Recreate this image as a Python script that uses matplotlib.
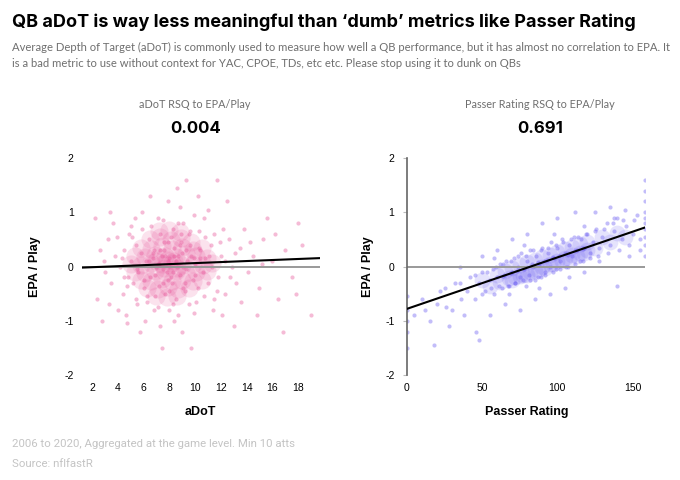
import numpy as np
import matplotlib.pyplot as plt

plt.rcParams['axes.unicode_minus'] = False

# aDoT vs EPA/play, single games (points read by eye from the cloud)
adot_x = [6.2, 6.5, 6.8, 7.0, 7.2, 7.4, 7.6, 7.8, 8.0, 8.2, 8.4, 8.6, 8.8, 9.0, 9.2, 9.4, 9.6, 9.8, 10.0,
          6.0, 6.4, 6.9, 7.3, 7.7, 8.1, 8.5, 8.9, 9.3, 9.7, 10.2, 10.4, 5.8, 5.6, 5.4, 5.2, 5.0, 10.6, 10.8,
          11.0, 11.2, 6.6, 7.5, 8.3, 9.1, 7.1, 8.0, 8.7, 9.5, 6.3, 10.3, 10.1,
          7.1, 7.5, 7.9, 8.3, 8.7, 9.1, 6.7, 7.3, 7.9, 8.5, 9.3, 9.9, 6.9, 7.7, 8.1, 8.9,
          4.2, 4.5, 4.8, 4.4, 4.9, 3.8, 3.5, 3.2, 3.0, 2.6, 2.4, 3.6, 4.0, 4.6, 5.3, 5.5, 5.9, 6.1, 7.9,
          8.8, 9.9, 10.7, 11.5, 11.8, 12.0, 12.3, 12.6, 12.9, 13.2, 13.5, 13.8, 14.1, 14.5, 15.0, 15.3,
          16.0, 16.4, 17.0, 17.5, 18.3, 11.4, 12.1, 11.0, 7.3, 8.4, 9.0, 6.5, 8.6, 11.7, 10.2, 5.7, 4.7,
          9.7, 13.0, 14.8, 16.8, 19.0, 18.0, 15.6, 2.2, 2.8, 3.4, 7.4, 12.5, 9.3,
          4.3, 4.7, 5.1, 5.5, 5.9, 6.3, 6.7, 7.1, 7.5, 7.9, 8.3, 8.7, 9.1, 9.5, 9.9, 10.3, 10.7, 11.1,
          11.5, 11.9, 12.3, 12.7, 4.5, 5.0, 5.4, 6.0, 6.4, 6.8, 7.2, 7.6, 8.0, 8.4, 8.8, 9.2, 9.6, 10.0,
          10.4, 10.8, 11.3, 11.7, 12.2, 13.1, 3.9, 13.6, 14.3, 3.3, 2.9, 15.2, 16.2, 17.8]
adot_y = [0.10, -0.20, 0.30, 0.00, -0.35, 0.20, 0.45, -0.10, 0.15, -0.30, 0.35, 0.00, -0.15, 0.25, -0.45,
          0.10, 0.40, -0.25, 0.05, -0.40, 0.50, -0.55, 0.60, -0.50, 0.55, -0.60, 0.60, -0.05, 0.20, -0.40,
          0.30, 0.25, -0.10, 0.40, -0.30, 0.10, -0.10, 0.15, -0.30, 0.40, 0.75, 0.85, 0.70, 0.80, -0.75,
          -0.80, -0.90, -0.70, -0.65, 0.65, -0.65,
          0.05, -0.05, 0.10, -0.10, 0.20, 0.00, 0.15, 0.30, -0.25, 0.10, 0.30, 0.15, -0.15, 0.20, -0.20, 0.45,
          0.00, 0.30, -0.20, -0.50, 0.60, 0.20, -0.30, 0.50, -0.10, 0.30, -0.60, 0.80, -0.80, -0.90, 0.90,
          -0.70, 1.00, -1.00, 1.20, 1.10, 0.95, 0.90, 0.60, -0.20, 0.20, -0.50, 0.50, 0.00, -0.30, 0.35,
          0.70, -0.10, 0.20, -0.40, 0.50, 0.10, -0.60, 0.30, -0.20, 0.40, -0.80, -0.90, 1.05, -1.10, -1.00,
          -1.20, 1.30, 1.45, 1.60, 1.30, -1.20, -1.05, -1.50, -1.10, -0.90, -1.20, -0.90, 0.80, 0.90, 0.90,
          -1.00, 1.00, -1.50, 1.20, 1.60,
          0.15, -0.35, 0.55, -0.05, 0.70, -0.55, 0.25, 0.90, -0.30, 0.45, -0.70, 0.80, -0.40, 0.60, -0.85,
          0.35, -0.55, 0.20, -0.60, 0.45, 0.10, -0.20, -0.20, 0.75, -0.60, -0.25, 0.10, -0.80, 0.05, 0.30,
          -0.45, 0.20, 0.40, -0.30, 0.65, -0.15, 0.15, 0.55, 0.00, -0.45, 0.70, 0.25, 0.55, -0.65, 0.45,
          -0.70, 0.10, 0.05, 0.60, -0.50]
# dense middle of the aDoT cloud
adot_core_x = [6.5, 7.3, 8.1, 8.9, 9.7, 5.8, 6.6, 7.4, 8.2, 9.0, 9.8, 10.5, 5.3, 6.1, 6.9, 7.7, 8.5, 9.3,
               10.1, 10.9, 5.0, 5.8, 6.6, 7.4, 8.2, 9.0, 9.8, 10.6, 11.3, 5.3, 6.1, 6.9, 7.7, 8.5, 9.3,
               10.1, 10.9, 5.8, 6.6, 7.4, 8.2, 9.0, 9.8, 10.5, 6.3, 7.1, 7.9, 8.7, 9.5, 7.0, 7.8, 8.6,
               7.2, 8.0, 8.8, 7.0, 7.8, 8.6, 7.6, 8.4]
adot_core_y = [0.50, 0.55, 0.48, 0.52, 0.45, 0.35, 0.33, 0.38, 0.32, 0.36, 0.30, 0.34, 0.20, 0.18, 0.22,
               0.20, 0.17, 0.23, 0.19, 0.15, 0.05, 0.03, 0.07, 0.04, 0.06, 0.02, 0.05, 0.03, 0.06, -0.10,
               -0.12, -0.08, -0.11, -0.09, -0.12, -0.10, -0.08, -0.25, -0.27, -0.23, -0.26, -0.24, -0.27,
               -0.25, -0.40, -0.42, -0.38, -0.41, -0.40, -0.55, -0.57, -0.54, 0.66, 0.68, 0.64, 0.10,
               0.12, -0.02, -0.02, 0.10]
adot_fit_x = [1.22, 19.7]
adot_fit_y = [-0.02, 0.155]

# Passer rating vs EPA/play
pr_x = [40, 42, 45, 48, 50, 52, 55, 57, 58, 60, 62, 63, 65, 66, 68, 70, 71, 72, 74, 75, 76, 78, 79, 80,
        81, 82, 84, 85, 86, 88, 89, 90, 91, 92, 94, 95, 96, 98, 99, 100, 102, 103, 105, 106, 108, 110,
        111, 113, 115, 116, 118, 120, 122, 124, 126, 128, 130, 133, 135, 138, 140, 143, 146, 150, 153,
        77, 83, 87, 93, 97, 101, 73, 69, 64, 107, 112, 117,
        20, 25, 30, 35, 15, 10, 5, 28, 38, 46, 55, 65, 75, 85, 95, 105, 70, 80, 90, 100, 112, 125, 135,
        145, 148, 155, 140, 118, 60, 50, 35, 18, 48,
        158.3, 158.3, 158.3, 158.3, 158.3, 158.3, 158.3, 158.3, 158.3, 158.3,
        0, 0, 0, 0, 0,
        45, 50, 53, 56, 59, 61, 64, 67, 69, 72, 74, 77, 79, 82, 84, 87, 89, 92, 94, 97, 99, 102, 104,
        107, 109, 112, 114, 117, 119, 122, 125, 127, 131, 134, 137, 141, 144, 148, 151, 155, 58, 68, 78,
        88, 98, 108, 118, 128, 138, 36, 32, 26, 22, 12]
pr_y = [-0.45, -0.20, -0.60, -0.30, -0.10, -0.45, -0.25, -0.05, -0.50, -0.20, 0.05, -0.40, -0.15, 0.10,
        -0.35, -0.10, 0.15, -0.30, 0.00, -0.20, 0.25, -0.05, -0.35, 0.10, -0.15, 0.30, 0.00, -0.25, 0.20,
        0.05, -0.20, 0.35, 0.10, -0.10, 0.25, 0.00, 0.45, 0.15, -0.05, 0.35, 0.10, 0.50, 0.25, 0.00, 0.40,
        0.20, 0.55, 0.30, 0.10, 0.50, 0.35, 0.60, 0.25, 0.45, 0.70, 0.35, 0.55, 0.80, 0.40, 0.65, 0.90,
        0.50, 0.75, 0.60, 0.95,
        -0.02, 0.05, 0.08, 0.12, 0.18, 0.20, -0.08, -0.12, -0.18, 0.22, 0.28, 0.33,
        -0.70, -0.40, -0.80, -0.30, -1.00, -0.60, -0.90, -1.10, -0.90, -1.20, -0.90, -0.70, -0.80, -0.60,
        -0.50, -0.40, 0.50, 0.60, 0.80, 0.90, 1.00, 1.00, 1.10, 1.05, 0.20, 0.30, -0.35, -0.10, 0.30,
        0.20, 0.00, -1.45, -1.35,
        0.20, 0.40, 0.55, 0.70, 0.80, 0.90, 1.00, 1.20, 1.40, 1.60,
        -0.55, -0.80, -1.00, -1.20, -1.50,
        -0.15, -0.50, -0.10, -0.40, 0.00, -0.35, 0.05, -0.35, 0.10, -0.30, 0.20, -0.25, 0.20, -0.25, 0.30,
        -0.20, 0.30, -0.15, 0.35, -0.10, 0.40, -0.05, 0.45, 0.00, 0.50, 0.05, 0.55, 0.10, 0.60, 0.15, 0.65,
        0.20, 0.70, 0.25, 0.80, 0.30, 0.85, 0.40, 0.85, 0.50, 0.15, -0.50, 0.40, -0.40, 0.60, -0.20, 0.75,
        0.10, 0.90, -0.60, -0.30, -0.75, -0.45, -0.80]
# dense middle of the passer rating cloud
pr_core_x = [50, 55, 60, 62, 65, 68, 70, 72, 75, 77, 80, 82, 85, 87, 90, 92, 95, 97, 100, 103, 105, 108,
             110, 113, 115, 118, 120, 125, 130, 135, 140, 145, 70, 75, 80, 85, 90, 95, 100, 105, 110, 115, 120]
pr_core_y = [-0.25, -0.35, -0.15, -0.28, -0.08, -0.22, -0.02, -0.20, 0.03, -0.15, 0.08, -0.10, 0.12, -0.06,
             0.17, -0.02, 0.22, 0.04, 0.26, 0.10, 0.32, 0.14, 0.36, 0.20, 0.42, 0.25, 0.45, 0.35, 0.55, 0.45,
             0.62, 0.55, -0.25, -0.18, -0.15, -0.08, 0.00, 0.05, 0.10, 0.15, 0.22, 0.25, 0.30]
pr_fit_x = [0, 158.3]
pr_fit_y = [-0.78, 0.72]

pink = '#e8559a'
blue = '#6a5cf2'
grey_txt = '#6f6f6f'

fig = plt.figure(figsize=(6.8, 4.8), dpi=100)

ax1 = fig.add_axes([0.1206, 0.21875, 0.35, 0.452])
ax2 = fig.add_axes([0.5985, 0.21875, 0.35, 0.452])

ax1.scatter(adot_core_x, adot_core_y, s=170, color=pink, alpha=0.17, linewidths=0)
ax1.scatter(adot_x, adot_y, s=9, color=pink, alpha=0.4, linewidths=0)
ax1.plot(adot_fit_x, [0, 0], color='#999999', lw=1.4, zorder=2)
ax1.plot(adot_fit_x, adot_fit_y, color='black', lw=1.5, zorder=3)
ax1.set_xlim(1.22, 19.7)
ax1.set_xticks([2, 4, 6, 8, 10, 12, 14, 16, 18])

ax2.scatter(pr_core_x, pr_core_y, s=130, color=blue, alpha=0.17, linewidths=0)
ax2.scatter(pr_x, pr_y, s=9, color=blue, alpha=0.4, linewidths=0)
ax2.plot(pr_fit_x, [0, 0], color='#999999', lw=1.4, zorder=2)
ax2.plot(pr_fit_x, pr_fit_y, color='black', lw=1.5, zorder=3)
ax2.set_xlim(0, 158.3)
ax2.set_xticks([0, 50, 100, 150])

for ax in (ax1, ax2):
    ax.set_ylim(-2, 2)
    ax.set_yticks([-2, -1, 0, 1, 2])
    for s in ax.spines.values():
        s.set_visible(False)
    ax.tick_params(length=0, labelsize=7.5, pad=6)
    for lab in ax.get_xticklabels() + ax.get_yticklabels():
        lab.set_fontfamily('Liberation Sans')

ax2.spines['left'].set_visible(True)
ax2.spines['left'].set_color('#666666')
ax2.spines['left'].set_linewidth(1.2)
ax2.tick_params(axis='y', length=3, color='#bbbbbb')

fig.text(0.018, 0.953, "QB aDoT is way less meaningful than \u2018dumb\u2019 metrics like Passer Rating",
         fontsize=13, fontweight='bold', family='Inter', va='center')
fig.text(0.018, 0.902, "Average Depth of Target (aDoT) is commonly used to measure how well a QB performance, "
         "but it has almost no correlation to EPA. It", fontsize=8.1, color=grey_txt, family='Lato', va='center')
fig.text(0.018, 0.868, "is a bad metric to use without context for YAC, CPOE, TDs, etc etc. "
         "Please stop using it to dunk on QBs", fontsize=8.1, color=grey_txt, family='Lato', va='center')

fig.text(0.287, 0.783, "aDoT RSQ to EPA/Play", fontsize=7.8, color=grey_txt, family='Lato', ha='center', va='center')
fig.text(0.287, 0.733, "0.004", fontsize=12, fontweight='bold', family='Inter', ha='center', va='center')
fig.text(0.794, 0.783, "Passer Rating RSQ to EPA/Play", fontsize=7.8, color=grey_txt, family='Lato', ha='center', va='center')
fig.text(0.794, 0.733, "0.691", fontsize=12, fontweight='bold', family='Inter', ha='center', va='center')

fig.text(0.294, 0.142, "aDoT", fontsize=9, fontweight='bold', family='Liberation Sans', ha='center', va='center')
fig.text(0.775, 0.142, "Passer Rating", fontsize=9, fontweight='bold', family='Liberation Sans', ha='center', va='center')
fig.text(0.051, 0.444, "EPA / Play", fontsize=9, fontweight='bold', family='Liberation Sans', ha='center', va='center', rotation=90)
fig.text(0.541, 0.444, "EPA / Play", fontsize=9, fontweight='bold', family='Liberation Sans', ha='center', va='center', rotation=90)

fig.text(0.018, 0.075, "2006 to 2020, Aggregated at the game level. Min 10 atts", fontsize=8.2,
         color='#c4c4c4', family='Roboto', va='center')
fig.text(0.018, 0.033, "Source: nflfastR", fontsize=8.2, color='#c4c4c4', family='Roboto', va='center')

fig.savefig('out.png', dpi=100, facecolor='white')
